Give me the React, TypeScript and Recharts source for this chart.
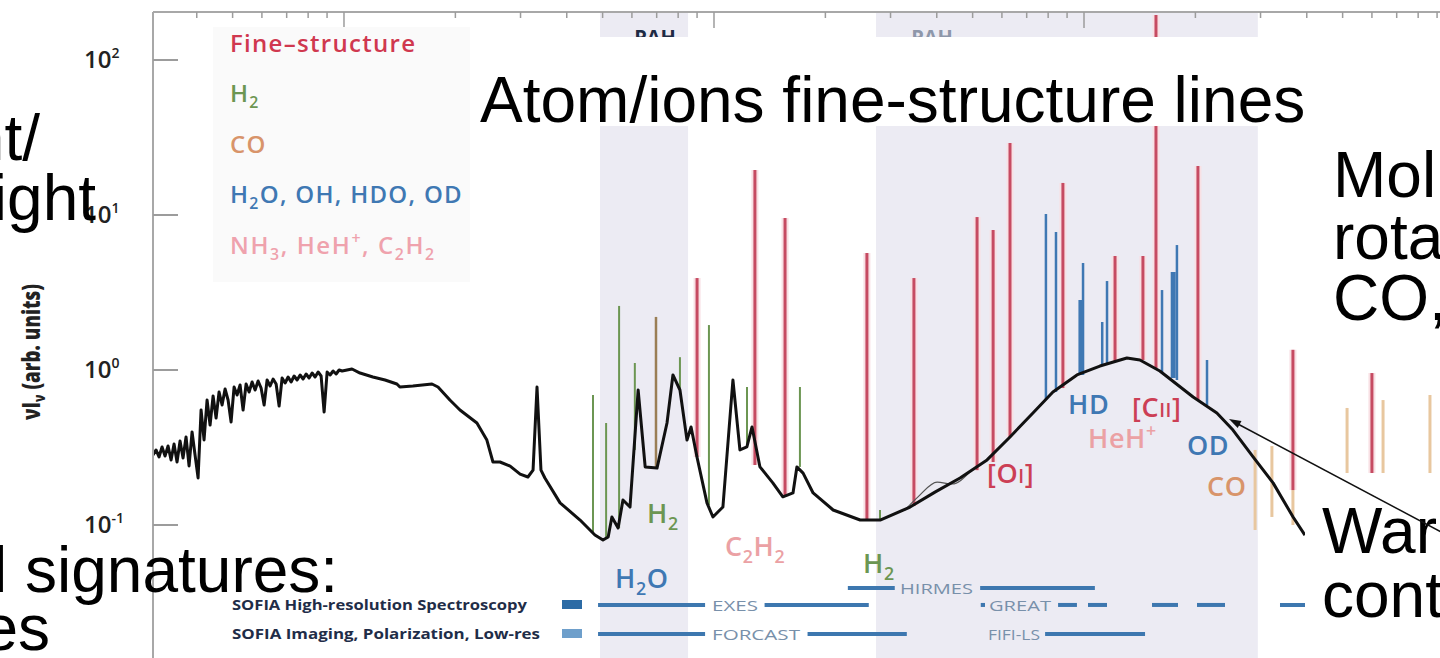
import React from 'react';
import { ComposedChart, Line, XAxis, YAxis, ReferenceLine, ReferenceArea } from 'recharts';

const WIDTH = 1440;
const HEIGHT = 658;

// Spectral energy distribution: wavelength (micron) and nu*I_nu (arb. units)
const continuumWavelength = [
  0.3047, 0.3104, 0.3163, 0.3223, 0.3284, 0.3346, 0.3409, 0.3473, 0.3538, 0.3605,
  0.3673, 0.3742, 0.3813, 0.3885, 0.3958, 0.4033, 0.4109, 0.4186, 0.4265, 0.4346,
  0.4428, 0.4511, 0.4596, 0.4683, 0.4771, 0.4861, 0.4953, 0.5046, 0.5141, 0.5238,
  0.5337, 0.5438, 0.554, 0.5645, 0.5751, 0.586, 0.597, 0.6083, 0.6197, 0.6314,
  0.6433, 0.6555, 0.6678, 0.6804, 0.6932, 0.7063, 0.7196, 0.7332, 0.747, 0.7611,
  0.7754, 0.79, 0.8049, 0.8201, 0.8355, 0.8513, 0.8673, 0.8837, 0.9003, 0.9173,
  0.9346, 0.9522, 0.9701, 0.9884,
  1.051, 1.105, 1.197, 1.291, 1.39, 1.416, 1.535,
  1.729, 1.795, 1.933, 2.058, 2.287, 2.433, 2.527, 2.64, 2.812, 2.992,
  3.141, 3.243, 3.324, 3.407, 3.491, 3.837, 4.345, 4.766, 5.012, 5.176,
  5.297, 5.506, 5.675, 5.929, 6.237, 6.516, 7.015, 7.464, 7.745, 8.091,
  8.453, 8.67, 8.995, 9.572, 9.934, 10.57, 11.25, 11.75, 12.27, 12.67,
  13.31, 14.42, 15.35, 16.35, 16.75, 17.41, 18.53, 20.99, 24.83, 28.12,
  33.88, 39.55, 46.24, 54.7, 63.1, 72.78, 82.41, 95.71, 110.4, 130.6,
  141.6, 160.3, 197.2, 228.6, 252.7, 286.4, 324.3, 367.3, 395.4,
];
const continuumFlux = [
  0.2831, 0.3049, 0.2749, 0.3188, 0.2789, 0.3236, 0.2629, 0.3333, 0.2552, 0.3484,
  0.2708, 0.3699, 0.2405, 0.3983, 0.2831, 0.2013, 0.5521, 0.3537, 0.6404, 0.4419,
  0.6796, 0.4903, 0.7212, 0.5946, 0.7541, 0.6404, 0.462, 0.7768, 0.6898, 0.8002,
  0.5521, 0.8122, 0.7212, 0.8367, 0.743, 0.8492, 0.7654, 0.5946, 0.8619, 0.7884,
  0.8748, 0.8122, 0.5858, 0.8879, 0.8244, 0.9012, 0.8367, 0.9147, 0.8619, 0.9284,
  0.8748, 0.9423, 0.8879, 0.9564, 0.9012, 0.9707, 0.9147, 0.5359, 0.9707, 0.9284,
  0.9852, 0.9423, 1.0, 0.9852,
  1.015, 0.956, 0.902, 0.862, 0.812, 0.777, 0.788,
  0.812, 0.777, 0.64, 0.552, 0.455, 0.353, 0.255, 0.255, 0.24, 0.213,
  0.204, 0.226, 0.777, 0.226, 0.201, 0.139, 0.1077, 0.0862, 0.08, 0.0837,
  0.1127, 0.0957, 0.145, 0.1306, 0.743, 0.237, 0.233, 0.455, 0.929, 0.743,
  0.353, 0.429, 0.275, 0.139, 0.1127, 0.1306, 0.862, 0.305, 0.319, 0.429,
  0.237, 0.187, 0.152, 0.161, 0.237, 0.216, 0.161, 0.125, 0.1077, 0.1077,
  0.1306, 0.163, 0.201, 0.263, 0.37, 0.528, 0.722, 0.929, 1.061, 1.195,
  1.161, 0.985, 0.67, 0.528, 0.41, 0.275, 0.187, 0.1127, 0.0861,
];

// Warm-dust shoulder drawn as a thin second component
const shoulderWavelength = [32.8, 35.6, 40.1, 44.0, 49.2];
const shoulderFlux = [0.125, 0.152, 0.189, 0.184, 0.22];

// Emission lines: [wavelength (micron), continuum level, peak]
const fineStructureLines = [
  [9.0, 0.275, 3.92], [12.9, 0.244, 19.5], [15.56, 0.152, 9.57], [25.9, 0.1077, 5.69],
  [34.7, 0.1327, 3.92], [51.4, 0.226, 9.7], [56.8, 0.255, 8.0], [63.1, 0.37, 29.1],
  [87.7, 0.765, 16.1], [121.3, 1.126, 5.44], [144.3, 1.16, 5.44], [156.5, 1.03, 195],
  [203.2, 0.64, 20.7], [367, 0.168, 1.35], [600, 0.0328, 0.956],
];
const h2Lines = [
  [4.71, 0.0888, 0.69], [5.11, 0.0837, 0.455], [5.54, 0.0957, 2.59], [6.11, 0.305, 1.11],
  [8.09, 0.743, 1.21], [9.69, 0.1346, 1.95], [12.28, 0.319, 0.777], [17.07, 0.237, 0.777],
  [28.1, 0.1077, 0.125],
];
const blendedLines = [[6.97, 0.233, 2.2]];
const waterLines = [
  [78.9, 0.64, 10.15], [84.0, 0.722, 7.77], [99.4, 0.929, 4.9], [112, 1.061, 2.04],
  [115.4, 1.08, 3.75], [162.5, 0.971, 3.28], [178.3, 0.862, 6.4], [215, 0.594, 1.16],
];
const waterMultiplets = [[98.1, 0.929, 2.83], [174.2, 0.888, 4.29]];
const coLines = [
  [290, 0.0929, 0.305], [322, 0.1127, 0.323], [367, 0.1, 0.168], [514, 0.0328, 0.569],
  [643, 0.0328, 0.64], [861, 0.0328, 0.69],
];

// Shaded spectral windows (micron)
const shadedWindows = [[4.92, 8.51], [27.4, 295]];

// SOFIA instrument coverage: [start, end] in micron, per row level
const exesSegments = [[4.86, 9.46], [13.7, 26.2]];
const forcastSegments = [[4.86, 9.46], [17.9, 33.2]];
const hirmesSegments = [[23.0, 30.8], [52.4, 107]];
const greatSegments = [[52.6, 54.0], [85.1, 95.7], [102.5, 115.4], [152.7, 179.5], [202, 240.5], [338.6, 434]];
const fifiSegments = [[78.5, 146.2]];
const hirmesLevel = 0.0392;
const exesLevel = 0.0305;
const forcastLevel = 0.0198;

const topTicks = [
  0.4, 0.5, 0.6, 0.7, 0.8, 0.9, 1, 2, 3, 4, 5, 6, 7, 8, 9, 10,
  20, 30, 40, 50, 60, 70, 80, 90, 100, 200, 300, 400, 500, 600, 700, 800, 900,
];
const yTicks = [0.1, 1, 10, 100];
const yTickExponents = ['-1', '0', '1', '2'];

const continuum = continuumWavelength.map((w, i) => ({ w, f: continuumFlux[i] }));
const shoulder = shoulderWavelength.map((w, i) => ({ w, f: shoulderFlux[i] }));

const FIG_FONT = "'Open Sans', 'Noto Sans', sans-serif";
const SLIDE_FONT = "'Liberation Sans', Arial, Helvetica, sans-serif";

const RED = '#C64B62';
const GREEN = '#6C9652';
const BLUE = '#3F78B3';
const TAN = '#E8C79F';
const INSTR = '#3D77AF';

function TopTick(props: any) {
  const { x, y, payload } = props;
  const lg = Math.log10(payload.value);
  const major = Math.abs(lg - Math.round(lg)) < 1e-6;
  return <line x1={x} x2={x} y1={y} y2={y + (major ? 16 : 6)} stroke="#9c9c9c" strokeWidth={1.5} />;
}

function LeftTick(props: any) {
  const { x, y, payload } = props;
  const idx = yTicks.indexOf(payload.value);
  return (
    <g>
      <line x1={x} x2={x + 25} y1={y} y2={y} stroke="#9c9c9c" strokeWidth={2} />
      <text x={x - 69} y={y + 8} fontFamily={FIG_FONT} fontWeight={600} fontSize={24} fill="#222">
        <tspan>10</tspan>
        <tspan dy={-10} fontSize={14}>{yTickExponents[idx]}</tspan>
      </text>
    </g>
  );
}

// Renders "H_2O" / "HeH^+" style formulas as SVG tspans
function Formula({ text, size }: { text: string; size: number }) {
  const out: any[] = [];
  let offset = 0;
  let run = '';
  let k = 0;
  const flush = () => {
    if (run) {
      out.push(<tspan key={k++} dy={-offset} fontSize={size}>{run}</tspan>);
      offset = 0;
      run = '';
    }
  };
  for (let i = 0; i < text.length; i++) {
    const c = text[i];
    if ((c === '_' || c === '^') && i + 1 < text.length) {
      flush();
      const target = c === '_' ? size * 0.25 : -size * 0.4;
      out.push(<tspan key={k++} dy={target - offset} fontSize={size * 0.66}>{text[i + 1]}</tspan>);
      offset = target;
      i++;
    } else {
      run += c;
    }
  }
  flush();
  return <>{out}</>;
}

function Label({ x, y, text, color, size = 27, spacing = 0.6, anchor = 'start' }: any) {
  return (
    <text x={x} y={y} fill={color} fontFamily={FIG_FONT} fontWeight={600} fontSize={size} letterSpacing={spacing} textAnchor={anchor}>
      <Formula text={text} size={size} />
    </text>
  );
}

function drawLines(list: number[][], color: string, width: number, halo?: string) {
  const out: any[] = [];
  list.forEach((l, i) => {
    const seg = [{ x: l[0], y: l[1] }, { x: l[0], y: l[2] }];
    if (halo) {
      out.push(
        <ReferenceLine key={`h${color}${i}`} segment={seg} stroke={halo} strokeWidth={width + 4} ifOverflow="hidden" />
      );
    }
    out.push(<ReferenceLine key={`l${color}${i}`} segment={seg} stroke={color} strokeWidth={width} ifOverflow="hidden" />);
  });
  return out;
}

function drawSegments(list: number[][], level: number, key: string) {
  return list.map((s, i) => (
    <ReferenceLine
      key={`${key}${i}`}
      segment={[{ x: s[0], y: level }, { x: s[1], y: level }]}
      stroke={INSTR}
      strokeWidth={4}
      ifOverflow="hidden"
    />
  ));
}

function SlideText({ x, y, text, anchor = 'start' }: any) {
  return (
    <text x={x} y={y} fontFamily={SLIDE_FONT} fontSize={64} fill="#000" textAnchor={anchor}>
      {text}
    </text>
  );
}

function InstrLabel({ x, y, text, w }: any) {
  return (
    <text x={x} y={y} fontFamily={FIG_FONT} fontSize={15} fill="#7890AA" textLength={w} lengthAdjust="spacingAndGlyphs">
      {text}
    </text>
  );
}

export default function App() {
  return (
    <div style={{ position: 'absolute', left: 0, top: 0, width: WIDTH, height: HEIGHT, background: '#fff', overflow: 'hidden' }}>
      <ComposedChart width={WIDTH} height={HEIGHT} margin={{ top: 0, right: 0, bottom: 0, left: 0 }}>
        <XAxis
          type="number"
          dataKey="w"
          scale="log"
          domain={[0.30466, 916.5]}
          allowDataOverflow
          orientation="top"
          height={12}
          ticks={topTicks}
          interval={0}
          tickSize={0}
          tickMargin={0}
          tickLine={false}
          tick={<TopTick />}
          axisLine={{ stroke: '#a8a8a8', strokeWidth: 2 }}
        />
        <YAxis
          type="number"
          scale="log"
          domain={[0.01387, 204]}
          allowDataOverflow
          width={153}
          ticks={yTicks}
          interval={0}
          tickSize={0}
          tickMargin={0}
          tickLine={false}
          tick={<LeftTick />}
          axisLine={{ stroke: '#a8a8a8', strokeWidth: 2 }}
        />
        {shadedWindows.map((b, i) => (
          <ReferenceArea key={`band${i}`} x1={b[0]} x2={b[1]} fill="#ECEBF3" fillOpacity={1} stroke="none" ifOverflow="hidden" />
        ))}
        {drawLines(coLines, TAN, 3)}
        {drawLines(h2Lines, GREEN, 2)}
        {drawLines(blendedLines, '#9A7E55', 2.5)}
        {drawLines(fineStructureLines, RED, 3, '#F8E0E4')}
        {drawLines(waterLines, BLUE, 2.5)}
        {drawLines(waterMultiplets, BLUE, 5)}
        {drawSegments(exesSegments, exesLevel, 'exes')}
        {drawSegments(forcastSegments, forcastLevel, 'forcast')}
        {drawSegments(hirmesSegments, hirmesLevel, 'hirmes')}
        {drawSegments(greatSegments, exesLevel, 'great')}
        {drawSegments(fifiSegments, forcastLevel, 'fifi')}
        <Line data={shoulder} dataKey="f" type="monotone" stroke="#555" strokeWidth={1.2} dot={false} isAnimationActive={false} />
        <Line data={continuum} dataKey="f" type="linear" stroke="#111" strokeWidth={3} strokeLinejoin="round" dot={false} isAnimationActive={false} />
      </ComposedChart>

      <svg width={WIDTH} height={HEIGHT} style={{ position: 'absolute', left: 0, top: 0, pointerEvents: 'none' }}>
        {/* legend panel */}
        <rect x={213} y={27} width={257} height={255} fill="#FAFAFA" />
        <Label x={230} y={52} text="Fine–structure" color="#D0384F" size={24} spacing={1.3} />
        <Label x={230} y={102} text="H_2" color={GREEN} size={24} spacing={1.3} />
        <Label x={230} y={153} text="CO" color="#D8946A" size={24} spacing={1.3} />
        <Label x={230} y={203} text="H_2O, OH, HDO, OD" color={BLUE} size={24} spacing={1.3} />
        <Label x={230} y={254} text="NH_3, HeH^+, C_2H_2" color="#EFA2AD" size={24} spacing={1.6} />

        {/* y-axis title */}
        <text transform="translate(40,352) rotate(-90)" textAnchor="middle" fontFamily={FIG_FONT} fontWeight={800} fontSize={25} fill="#222" textLength={136} lengthAdjust="spacingAndGlyphs">
          νI<tspan dy={5} fontSize={16}>ν</tspan><tspan dy={-5}> (arb. units)</tspan>
        </text>

        {/* species annotations */}
        <Label x={647} y={523} text="H_2" color={GREEN} />
        <Label x={725} y={556} text="C_2H_2" color="#EBA1A4" />
        <Label x={615} y={588} text="H_2O" color={BLUE} />
        <Label x={863} y={573} text="H_2" color={GREEN} />
        <text x={987} y={483} fill="#CC3F55" fontFamily={FIG_FONT} fontWeight={600} fontSize={27} letterSpacing={0.6}>
          [O<tspan fontSize={19}>I</tspan>]
        </text>
        <Label x={1068} y={414} text="HD" color={BLUE} />
        <text x={1132} y={417} fill="#CC3F55" fontFamily={FIG_FONT} fontWeight={600} fontSize={27} letterSpacing={0.6}>
          [C<tspan fontSize={19}>II</tspan>]
        </text>
        <Label x={1088} y={448} text="HeH^+" color="#EBA1A4" />
        <Label x={1187} y={455} text="OD" color={BLUE} />
        <Label x={1207} y={496} text="CO" color="#D8946A" />

        {/* SOFIA instruments */}
        <text x={232} y={610} fontFamily={FIG_FONT} fontWeight={700} fontSize={14} fill="#1F2D48" textLength={295} lengthAdjust="spacingAndGlyphs">
          SOFIA High-resolution Spectroscopy
        </text>
        <text x={232} y={639} fontFamily={FIG_FONT} fontWeight={700} fontSize={14} fill="#1F2D48" textLength={308} lengthAdjust="spacingAndGlyphs">
          SOFIA Imaging, Polarization, Low-res
        </text>
        <rect x={562} y={600} width={20} height={9} fill="#2C6BA5" />
        <rect x={562} y={629} width={20} height={9} fill="#6E9FCB" />
        <InstrLabel x={712} y={611} text="EXES" w={46} />
        <InstrLabel x={712} y={640} text="FORCAST" w={88} />
        <InstrLabel x={900} y={594} text="HIRMES" w={73} />
        <InstrLabel x={989} y={611} text="GREAT" w={62} />
        <InstrLabel x={988} y={640} text="FIFI-LS" w={52} />

        {/* band headings partly hidden by the title banner */}
        <text x={655} y={44} textAnchor="middle" fontFamily={FIG_FONT} fontWeight={700} fontSize={20} fill="#1E2A44">PAH</text>
        <text x={932} y={44} textAnchor="middle" fontFamily={FIG_FONT} fontWeight={700} fontSize={20} fill="#8E97AA">PAH</text>

        {/* slide overlays */}
        <rect x={470} y={37} width={970} height={89} fill="#fff" />
        <rect x={1305} y={473} width={135} height={185} fill="#fff" />

        <SlideText x={480} y={122} text="Atom/ions fine-structure lines" />
        <SlideText x={40} y={160} text="nt/" anchor="end" />
        <SlideText x={96} y={220} text="ight" anchor="end" />
        <SlideText x={1333} y={197} text="Mol" />
        <SlideText x={1333} y={259} text="rota" />
        <SlideText x={1333} y={320} text="CO," />
        <SlideText x={-7} y={592} text="l signatures:" />
        <SlideText x={50} y={650} text="es" anchor="end" />
        <SlideText x={1322} y={553} text="War" />
        <SlideText x={1322} y={617} text="cont" />

        {/* pointer to the warm continuum */}
        <line x1={1460} y1={542} x2={1236} y2={423} stroke="#111" strokeWidth={1.5} />
        <polygon points="1229,419 1241.5,421.1 1237.7,428.1" fill="#111" />
      </svg>
    </div>
  );
}
